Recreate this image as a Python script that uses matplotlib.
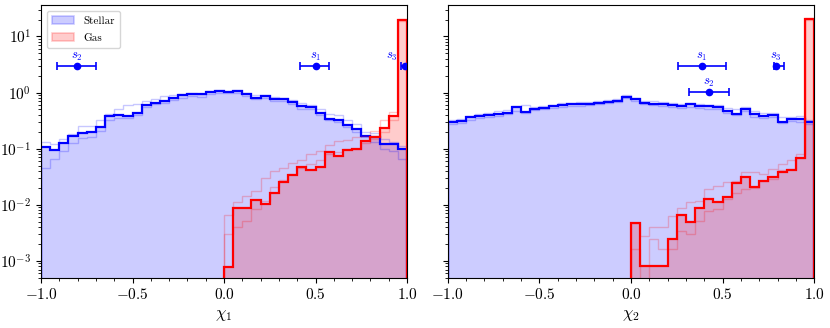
import numpy as np
import matplotlib
matplotlib.use("Agg")
import matplotlib.pyplot as plt
from matplotlib.patches import Patch

plt.rcParams.update({
    "font.family": ["cmr10"],
    "mathtext.fontset": "cm",
    "axes.formatter.use_mathtext": True,
    "axes.unicode_minus": True,
})

# ---------------- data ----------------
bin_edges = np.linspace(-1.0, 1.0, 41)

stellar_chi1 = [0.106, 0.095, 0.125, 0.17, 0.19, 0.197, 0.243, 0.39, 0.40, 0.376,
                0.44, 0.60, 0.66, 0.71, 0.81, 0.90, 0.93, 0.93, 1.04, 1.07,
                1.03, 1.05, 0.93, 0.81, 0.87, 0.78, 0.76, 0.68, 0.57, 0.55,
                0.43, 0.34, 0.33, 0.26, 0.226, 0.17, 0.16, 0.12, 0.12, 0.099]
stellar_chi1_hi = [0.13, 0.122, 0.15, 0.185, 0.25, 0.25, 0.33, 0.42, 0.50, 0.59,
                   0.62, 0.70, 0.76, 0.86, 0.90, 0.96, 1.00, 0.96, 1.07, 1.10,
                   1.08, 1.10, 1.00, 0.90, 0.90, 0.85, 0.80, 0.75, 0.65, 0.60,
                   0.50, 0.42, 0.40, 0.32, 0.27, 0.20, 0.19, 0.15, 0.13, 0.11]
stellar_chi1_lo = [0.046, 0.066, 0.092, 0.125, 0.156, 0.16, 0.21, 0.33, 0.35, 0.35,
                   0.40, 0.55, 0.62, 0.65, 0.73, 0.81, 0.86, 0.84, 0.93, 0.97,
                   0.97, 1.00, 0.88, 0.76, 0.80, 0.72, 0.70, 0.62, 0.52, 0.50,
                   0.40, 0.32, 0.30, 0.24, 0.20, 0.16, 0.13, 0.10, 0.09, 0.065]

gas_chi1 = [0] * 20 + [0.00078, 0.0089, 0.0089, 0.0121, 0.0105, 0.0161, 0.025, 0.034,
                       0.048, 0.041, 0.048, 0.086, 0.075, 0.094, 0.098, 0.135,
                       0.16, 0.23, 0.39, 19.8]
gas_chi1_hi = [0] * 20 + [0.0065, 0.011, 0.0144, 0.0178, 0.030, 0.040, 0.046, 0.055,
                          0.063, 0.081, 0.092, 0.114, 0.136, 0.14, 0.16, 0.17,
                          0.21, 0.32, 0.45, 20.5]
gas_chi1_lo = [0] * 20 + [0.003, 0.004, 0.0052, 0.0084, 0.0117, 0.0204, 0.0276, 0.035,
                          0.046, 0.053, 0.063, 0.081, 0.086, 0.099, 0.099, 0.125,
                          0.15, 0.20, 0.33, 19.0]

stellar_chi2 = [0.30, 0.31, 0.36, 0.39, 0.40, 0.42, 0.44, 0.55, 0.45, 0.52,
                0.54, 0.57, 0.60, 0.62, 0.62, 0.63, 0.66, 0.69, 0.71, 0.85,
                0.76, 0.66, 0.635, 0.635, 0.59, 0.57, 0.62, 0.57, 0.57, 0.55,
                0.47, 0.42, 0.52, 0.41, 0.39, 0.40, 0.30, 0.34, 0.34, 0.30]
stellar_chi2_hi = [0.33, 0.34, 0.38, 0.42, 0.44, 0.46, 0.48, 0.58, 0.60, 0.56,
                   0.58, 0.61, 0.64, 0.66, 0.68, 0.67, 0.70, 0.73, 0.76, 0.90,
                   0.80, 0.72, 0.70, 0.69, 0.66, 0.63, 0.65, 0.62, 0.61, 0.60,
                   0.54, 0.50, 0.55, 0.46, 0.44, 0.43, 0.36, 0.37, 0.38, 0.33]
stellar_chi2_lo = [0.27, 0.29, 0.33, 0.35, 0.37, 0.39, 0.41, 0.47, 0.43, 0.48,
                   0.50, 0.53, 0.56, 0.58, 0.58, 0.60, 0.62, 0.65, 0.68, 0.80,
                   0.72, 0.62, 0.59, 0.58, 0.55, 0.53, 0.56, 0.53, 0.52, 0.51,
                   0.44, 0.40, 0.46, 0.37, 0.35, 0.36, 0.29, 0.31, 0.30, 0.27]

gas_chi2 = [0] * 20 + [0.0048, 0.0008, 0.0008, 0.0008, 0.0024, 0.0065, 0.0049, 0.0087,
                       0.0129, 0.0114, 0.0139, 0.0244, 0.031, 0.0204, 0.026, 0.031,
                       0.038, 0.041, 0.068, 20.6]
gas_chi2_hi = [0] * 20 + [0.0048, 0.0028, 0.0040, 0.0040, 0.0063, 0.0087, 0.0114, 0.0117,
                          0.019, 0.022, 0.025, 0.026, 0.038, 0.038, 0.035, 0.043,
                          0.053, 0.063, 0.081, 21.0]
gas_chi2_lo = [0] * 20 + [0.0016, 0.0004, 0.0024, 0.0016, 0.0016, 0.0034, 0.0030, 0.0052,
                          0.0077, 0.0084, 0.0126, 0.0165, 0.019, 0.020, 0.027, 0.029,
                          0.041, 0.043, 0.068, 20.0]

# s-point markers
points_chi1 = dict(x=[0.50, -0.805, 0.989], xlo=[0.415, -0.91, 0.966], xhi=[0.575, -0.70, 1.04],
                   y=[3.0, 3.0, 3.0], lx=[0.50, -0.805, 0.92], lab=["$s_1$", "$s_2$", "$s_3$"])
points_chi2 = dict(x=[0.388, 0.424, 0.793], xlo=[0.257, 0.317, 0.778], xhi=[0.520, 0.535, 0.834],
                   y=[3.0, 1.03, 3.0], lx=[0.388, 0.424, 0.793], lab=["$s_1$", "$s_2$", "$s_3$"])

xticks = [-1.0, -0.5, 0.0, 0.5, 1.0]
xlabels = [r"$\chi_1$", r"$\chi_2$"]
legend_labels = ["Stellar", "Gas"]

# ---------------- plot ----------------
W, H = 830, 328
fig = plt.figure(figsize=(W / 100, H / 100), dpi=100)
ax1 = fig.add_axes([41 / W, 1 - 277.7 / H, 366 / W, 272.4 / H])
ax2 = fig.add_axes([447.7 / W, 1 - 277.7 / H, 366.6 / W, 272.4 / H], sharey=ax1)

def pos(v):
    v = np.asarray(v, dtype=float)
    return np.where(v > 0, v, 1e-9)

def draw(ax, st, st_hi, st_lo, gs, gs_hi, gs_lo, pts, xl, legend):
    ax.set_yscale("log")
    centers = 0.5 * (bin_edges[1:] + bin_edges[:-1])
    ax.hist(centers, bins=bin_edges, weights=pos(st), histtype="stepfilled",
            color="blue", alpha=0.2)
    for v in (st_hi, st_lo):
        ax.hist(centers, bins=bin_edges, weights=pos(v), histtype="step",
                color="blue", alpha=0.22, lw=1.0)
    ax.hist(centers, bins=bin_edges, weights=pos(st), histtype="step",
            color="blue", lw=1.6)
    ax.hist(centers, bins=bin_edges, weights=pos(gs), histtype="stepfilled",
            color="red", alpha=0.2)
    for v in (gs_hi, gs_lo):
        ax.hist(centers, bins=bin_edges, weights=pos(v), histtype="step",
                color="red", alpha=0.22, lw=1.0)
    ax.hist(centers, bins=bin_edges, weights=pos(gs), histtype="step",
            color="red", lw=1.6)
    x = np.array(pts["x"]); lo = np.array(pts["xlo"]); hi = np.array(pts["xhi"])
    ax.errorbar(x, pts["y"], xerr=[x - lo, hi - x], fmt="o", color="blue",
                ms=4.5, capsize=3, elinewidth=1.2, capthick=1.2)
    for lx, yy, lab in zip(pts["lx"], pts["y"], pts["lab"]):
        ax.text(lx, yy * 1.12, lab, color="blue", ha="center", va="bottom", fontsize=9)
    ax.set_xlim(-1, 1)
    ax.set_ylim(5e-4, 36)
    ax.set_xticks(xticks)
    ax.set_xticks(np.arange(-1, 1.0001, 0.1), minor=True)
    ax.set_xlabel(xl, fontsize=12)
    ax.tick_params(axis="both", which="major", labelsize=11, length=3.5, width=0.8)
    ax.tick_params(axis="both", which="minor", length=2, width=0.6)
    if legend:
        handles = [Patch(facecolor="blue", edgecolor="blue", alpha=0.2, lw=1.2),
                   Patch(facecolor="red", edgecolor="red", alpha=0.2, lw=1.2)]
        ax.legend(handles, legend_labels, loc="upper left", fontsize=8,
                  handlelength=2.0, borderpad=0.5, labelspacing=0.6)

draw(ax1, stellar_chi1, stellar_chi1_hi, stellar_chi1_lo, gas_chi1, gas_chi1_hi, gas_chi1_lo,
     points_chi1, xlabels[0], True)
draw(ax2, stellar_chi2, stellar_chi2_hi, stellar_chi2_lo, gas_chi2, gas_chi2_hi, gas_chi2_lo,
     points_chi2, xlabels[1], False)
plt.setp(ax2.get_yticklabels(), visible=False)

fig.savefig("out.png", dpi=100)
